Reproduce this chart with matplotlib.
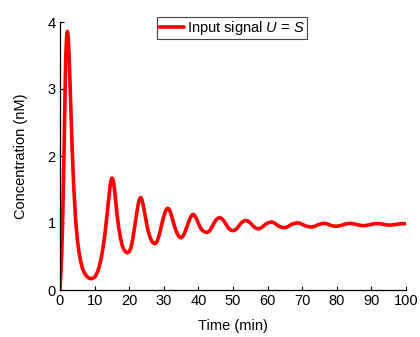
import matplotlib
matplotlib.use("Agg")
import matplotlib.pyplot as plt

plt.rcParams['font.family'] = ['Liberation Sans', 'DejaVu Sans']
plt.rcParams['mathtext.fontset'] = 'custom'
plt.rcParams['mathtext.rm'] = 'Liberation Sans'
plt.rcParams['mathtext.it'] = 'Liberation Sans:italic'

time_min = [
    0, 0.25, 0.5, 0.75, 1.0, 1.25, 1.5, 1.625, 1.75, 1.875, 2.0, 2.125, 2.25, 2.375,
    2.5, 2.625, 2.75, 2.875, 3.0, 3.25, 3.5, 3.75, 4.0, 4.25, 4.5, 5.0, 5.5, 6.0, 6.5,
    7.0, 7.5, 8.0, 8.5, 9.0, 9.5, 10.0, 10.5, 11.0, 11.5, 12.0, 12.5, 13.0, 13.5, 14.0,
    14.25, 14.5, 14.75, 15.0, 15.25, 15.5, 15.75, 16.0, 16.5, 17.0, 17.5, 18.0, 18.5,
    19.0, 19.5, 20.0, 20.5, 21.0, 21.5, 22.0, 22.5, 22.75, 23.0, 23.3, 23.6, 24.0, 24.5,
    25.0, 25.5, 26.0, 26.5, 27.0, 27.5, 28.0, 28.5, 29.0, 29.5, 30.0, 30.5, 31.0, 31.5,
    32.0, 32.5, 33.0, 33.5, 34.0, 34.5, 35.0, 35.5, 36.0, 36.5, 37.0, 37.5, 38.0, 38.4,
    38.8, 39.3, 39.8, 40.3, 40.8, 41.4, 42.0, 42.6, 43.2, 43.8, 44.4, 45.0, 45.6, 46.2,
    46.8, 47.4, 48.0, 48.6, 49.2, 49.8, 50.4, 51.0, 51.6, 52.2, 52.8, 53.4, 54.0, 54.6,
    55.2, 55.8, 56.4, 57.0, 57.6, 58.2, 58.8, 59.4, 60.0, 60.6, 61.2, 61.8, 62.4, 63.0,
    63.6, 64.2, 64.8, 65.4, 66.0, 66.6, 67.2, 67.8, 68.4, 69.0, 69.6, 70.2, 70.8, 71.4,
    72.0, 72.6, 73.2, 73.8, 74.4, 75.0, 75.6, 76.2, 76.8, 77.4, 78.0, 78.6, 79.2, 79.8,
    80.4, 81.0, 81.6, 82.2, 82.8, 83.4, 84.0, 84.6, 85.2, 85.8, 86.4, 87.0, 87.6, 88.2,
    88.8, 89.4, 90.0, 90.6, 91.2, 91.8, 92.4, 93.0, 93.6, 94.2, 94.8, 95.4, 96.0, 96.6,
    97.2, 97.8, 98.4, 99.0, 100.0]
concentration = [
    0.0, 0.25, 0.55, 1.0, 1.6, 2.35, 3.1, 3.4, 3.6, 3.74, 3.83, 3.86, 3.84, 3.77,
    3.65, 3.5, 3.3, 3.08, 2.88, 2.47, 2.13, 1.8, 1.52, 1.28, 1.06, 0.76, 0.56, 0.42, 0.32,
    0.26, 0.22, 0.19, 0.175, 0.17, 0.175, 0.19, 0.23, 0.29, 0.38, 0.5, 0.65, 0.84, 1.08, 1.33,
    1.45, 1.56, 1.63, 1.67, 1.66, 1.6, 1.5, 1.38, 1.12, 0.92, 0.77, 0.66, 0.6,
    0.565, 0.555, 0.57, 0.63, 0.75, 0.92, 1.1, 1.25, 1.32, 1.36, 1.38, 1.36, 1.28, 1.14,
    1.0, 0.88, 0.79, 0.73, 0.7, 0.69, 0.72, 0.79, 0.89, 1.0, 1.1, 1.18, 1.22, 1.21,
    1.15, 1.06, 0.97, 0.89, 0.83, 0.79, 0.78, 0.8, 0.85, 0.92, 0.99, 1.06, 1.11, 1.13,
    1.12, 1.08, 1.02, 0.96, 0.91, 0.88, 0.865, 0.86, 0.88, 0.93, 0.99, 1.04, 1.07, 1.08,
    1.065, 1.03, 0.98, 0.93, 0.9, 0.885, 0.89, 0.91, 0.95, 0.99, 1.02, 1.035, 1.035, 1.02,
    0.99, 0.955, 0.93, 0.915, 0.915, 0.93, 0.955, 0.98, 1.0, 1.01, 1.015, 1.005, 0.985, 0.96,
    0.945, 0.935, 0.93, 0.935, 0.95, 0.97, 0.985, 0.995, 1.0, 1.0, 0.99, 0.975, 0.96, 0.95,
    0.945, 0.94, 0.945, 0.955, 0.97, 0.98, 0.99, 0.995, 0.99, 0.985, 0.97, 0.96, 0.955, 0.952,
    0.955, 0.96, 0.97, 0.98, 0.988, 0.992, 0.993, 0.99, 0.983, 0.975, 0.968, 0.963, 0.96, 0.962,
    0.967, 0.974, 0.98, 0.986, 0.99, 0.991, 0.99, 0.985, 0.979, 0.973, 0.97, 0.969, 0.971, 0.975,
    0.98, 0.985, 0.988, 0.99, 0.99]

x_ticks = [0, 10, 20, 30, 40, 50, 60, 70, 80, 90, 100]
y_ticks = [0, 1, 2, 3, 4]

fig = plt.figure(figsize=(4.2, 3.37), dpi=100)
ax = fig.add_axes([60/420, 1-290/337, 346/420, 268/337])
ax.plot(time_min, concentration, color='#ff0000', lw=2.6, solid_joinstyle='round',
        solid_capstyle='round', label='Input signal $U$ = $S$')
ax.set_xlim(0, 100)
ax.set_ylim(0, 4)
ax.set_xticks(x_ticks)
ax.set_yticks(y_ticks)
ax.tick_params(direction='in', length=3, width=0.8, labelsize=10.5, pad=3)
for s in ['top', 'right']:
    ax.spines[s].set_visible(False)
for s in ['left', 'bottom']:
    ax.spines[s].set_linewidth(0.9)
ax.set_xlabel('Time (min)', fontsize=10.5, labelpad=8)
ax.set_ylabel('Concentration (nM)', fontsize=10.5, labelpad=14)
leg = fig.legend(loc='upper left', bbox_to_anchor=(157/420, 1-17/337), fontsize=10.5,
                 fancybox=False, edgecolor='#444444', framealpha=1, borderaxespad=0,
                 handlelength=1.7, borderpad=0.15, handletextpad=0.2)
leg.get_frame().set_linewidth(0.8)
fig.savefig('out.png', dpi=100)
